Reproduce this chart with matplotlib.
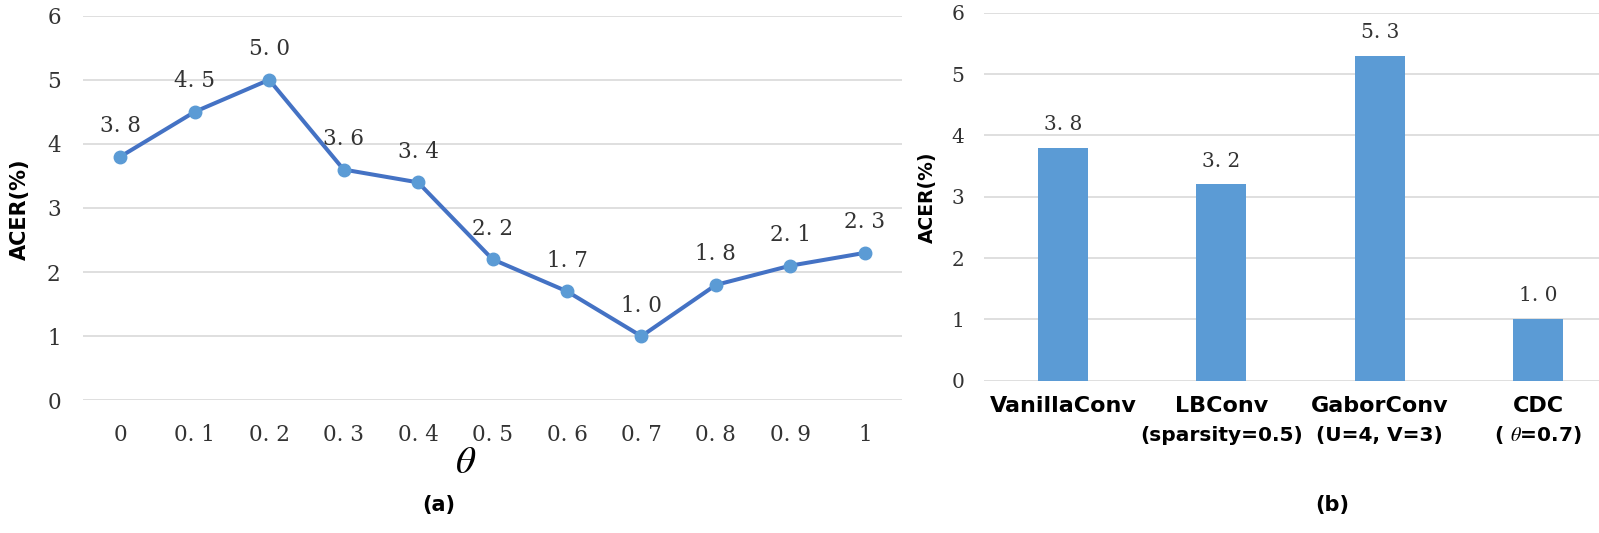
import matplotlib
matplotlib.use('Agg')
import matplotlib.pyplot as plt

# (a) ACER vs theta
theta_vals = [0, 0.1, 0.2, 0.3, 0.4, 0.5, 0.6, 0.7, 0.8, 0.9, 1]
theta_labels = ['0', '0. 1', '0. 2', '0. 3', '0. 4', '0. 5', '0. 6', '0. 7', '0. 8', '0. 9', '1']
acer_theta = [3.8, 4.5, 5.0, 3.6, 3.4, 2.2, 1.7, 1.0, 1.8, 2.1, 2.3]

# (b) ACER per conv type
conv_names = ['VanillaConv', 'LBConv', 'GaborConv', 'CDC']
conv_params = ['', '(sparsity=0.5)', '(U=4, V=3)', r'( $\theta$=0.7)']
acer_conv = [3.8, 3.2, 5.3, 1.0]

line_color = '#4472C4'
marker_color = '#5B9BD5'
bar_color = '#5B9BD5'
grid_color = '#D9D9D9'
num_color = '#333333'

plt.rcParams['mathtext.fontset'] = 'stix'


def fmt(v):
    return f'{v:.1f}'.replace('.', '. ')


fig = plt.figure(figsize=(15.99, 5.33), dpi=100)

# ---- panel (a)
ax1 = fig.add_axes([83 / 1599, 1 - 400.3 / 533, 819 / 1599, 384.6 / 533])
x = list(range(len(theta_vals)))
ax1.plot(x, acer_theta, color=line_color, lw=2.9, zorder=3)
ax1.plot(x, acer_theta, 'o', color=marker_color, ms=9, zorder=4)
for xi, v in zip(x, acer_theta):
    ax1.annotate(fmt(v), (xi, v), xytext=(0, 14), textcoords='offset points',
                 ha='center', va='bottom', family='DejaVu Serif', fontsize=15.5,
                 color=num_color)
ax1.set_xlim(-0.5, len(x) - 0.5)
ax1.set_ylim(0, 6)
ax1.set_xticks(x)
ax1.set_xticklabels(theta_labels, family='DejaVu Serif', fontsize=15.5, color=num_color)
ax1.set_yticks(range(7))
ax1.set_yticklabels([str(i) for i in range(7)], family='DejaVu Serif', fontsize=15.5,
                    color=num_color)
ax1.tick_params(axis='x', length=0, pad=17)
ax1.tick_params(axis='y', length=0, pad=16)
ax1.grid(axis='y', color=grid_color, lw=1.2)
ax1.set_axisbelow(True)
for s in ax1.spines.values():
    s.set_visible(False)

fig.text(20 / 1599, 1 - 209 / 533, 'ACER(%)', rotation=90, ha='center', va='center',
         family='DejaVu Sans', weight='bold', fontsize=15)
fig.text(466 / 1599, 1 - 462 / 533, r'$\theta$', ha='center', va='center', fontsize=28)
fig.text(439 / 1599, 1 - 505 / 533, '(a)', ha='center', va='center',
         family='DejaVu Sans', weight='bold', fontsize=15)

# ---- panel (b)
ax2 = fig.add_axes([984 / 1599, 1 - 380.7 / 533, 615 / 1599, 368 / 533])
xb = list(range(len(conv_names)))
ax2.bar(xb, acer_conv, width=0.316, color=bar_color, zorder=3)
for xi, v in zip(xb, acer_conv):
    ax2.annotate(fmt(v), (xi, v), xytext=(0, 10), textcoords='offset points',
                 ha='center', va='bottom', family='DejaVu Serif', fontsize=14.5,
                 color=num_color)
ax2.set_xlim(-0.5, 3.385)
ax2.set_ylim(0, 6)
ax2.set_xticks(xb)
ax2.set_xticklabels(conv_names, family='DejaVu Sans', weight='bold', fontsize=16)
ax2.set_yticks(range(7))
ax2.set_yticklabels([str(i) for i in range(7)], family='DejaVu Serif', fontsize=14.5,
                    color=num_color)
ax2.tick_params(axis='x', length=0, pad=11)
ax2.tick_params(axis='y', length=0, pad=14)
ax2.grid(axis='y', color=grid_color, lw=1.2)
ax2.set_axisbelow(True)
for s in ax2.spines.values():
    s.set_visible(False)
for xi, p in zip(xb, conv_params):
    if p:
        ax2.text(xi, -0.1476, p, transform=ax2.get_xaxis_transform(), ha='center',
                 va='center', family='DejaVu Sans', weight='bold', fontsize=14.5)

fig.text(927 / 1599, 1 - 197.5 / 533, 'ACER(%)', rotation=90, ha='center', va='center',
         family='DejaVu Sans', weight='bold', fontsize=13.5)
fig.text(1332 / 1599, 1 - 505 / 533, '(b)', ha='center', va='center',
         family='DejaVu Sans', weight='bold', fontsize=15)

fig.savefig('out.png', dpi=100)
